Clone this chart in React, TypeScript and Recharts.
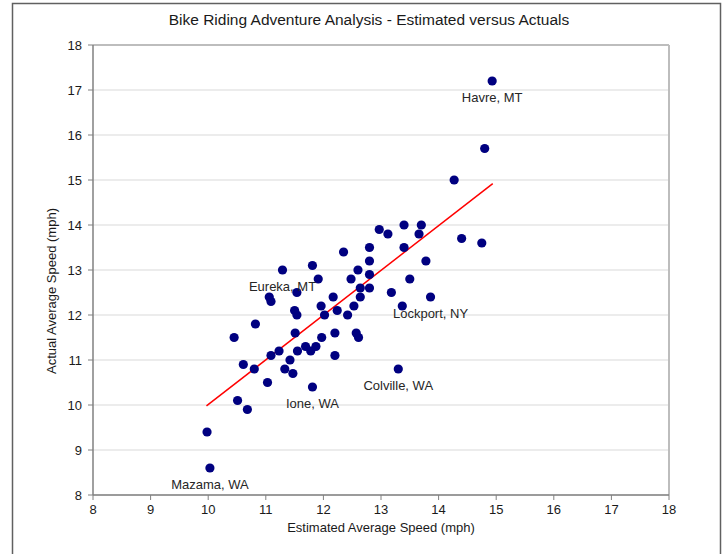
import React from 'react';
import { ScatterChart, Scatter, XAxis, YAxis, CartesianGrid, ReferenceLine } from 'recharts';

const estimated = [
  14.93, 14.8, 14.27, 14.4, 14.75, 13.4, 13.7, 13.66, 12.97, 13.12,
  13.4, 12.8, 13.78, 12.8, 12.35, 13.5, 13.18, 13.86, 13.37, 12.8,
  12.6, 12.48, 12.8, 12.64, 12.64, 12.53, 12.42, 12.24, 12.17, 12.2,
  12.57, 12.61, 12.2, 13.3, 11.81, 11.29, 11.91, 11.54, 11.06, 11.09,
  11.96, 11.5, 11.54, 12.02, 10.82, 10.45, 11.51, 11.97, 11.23, 11.09,
  11.55, 11.69, 11.78, 11.87, 11.42, 10.61, 10.8, 11.33, 11.47, 11.03,
  11.81, 10.51, 10.68, 9.98, 10.03,
];
const actual = [
  17.2, 15.7, 15.0, 13.7, 13.6, 14.0, 14.0, 13.8, 13.9, 13.8,
  13.5, 13.5, 13.2, 13.2, 13.4, 12.8, 12.5, 12.4, 12.2, 12.9,
  13.0, 12.8, 12.6, 12.6, 12.4, 12.2, 12.0, 12.1, 12.4, 11.6,
  11.6, 11.5, 11.1, 10.8, 13.1, 13.0, 12.8, 12.5, 12.4, 12.3,
  12.2, 12.1, 12.0, 12.0, 11.8, 11.5, 11.6, 11.5, 11.2, 11.1,
  11.2, 11.3, 11.2, 11.3, 11.0, 10.9, 10.8, 10.8, 10.7, 10.5,
  10.4, 10.1, 9.9, 9.4, 8.6,
];

const labelNames = ['Havre, MT', 'Eureka, MT', 'Lockport, NY', 'Colville, WA', 'Ione, WA', 'Mazama, WA'];
const labelX = [14.93, 11.29, 13.86, 13.3, 11.81, 10.03];
const labelY = [17.2, 13.0, 12.4, 10.8, 10.4, 8.6];

const trendX = [9.97, 14.94];
const trendY = [9.98, 14.92];

const axisTicks = [8, 9, 10, 11, 12, 13, 14, 15, 16, 17, 18];

const points = estimated.map((x, i) => ({ x, y: actual[i] }));
const labelPoints = labelNames.map((name, i) => ({ x: labelX[i], y: labelY[i], name }));
const trendPoints = trendX.map((x, i) => ({ x, y: trendY[i] }));

const FONT = '"Liberation Sans", Arial, sans-serif';

const Dot = (props: any) => <circle cx={props.cx} cy={props.cy} r={4.6} fill="#000080" />;
const Empty = () => <g />;
const LabelShape = (props: any) => (
  <text
    x={props.cx}
    y={props.cy + 21}
    textAnchor="middle"
    fontFamily={FONT}
    fontSize={13}
    fill="#262626"
  >
    {props.payload.name}
  </text>
);

export default function App() {
  return (
    <div style={{ position: 'absolute', left: 0, top: 0, width: 724, height: 554, background: '#fff', overflow: 'hidden' }}>
      <ScatterChart
        width={724}
        height={554}
        margin={{ top: 45, right: 55, bottom: 29, left: 53 }}
      >
        <CartesianGrid horizontal={true} vertical={false} stroke="#d9d9d9" strokeWidth={1} />
        <XAxis
          type="number"
          dataKey="x"
          domain={[8, 18]}
          ticks={axisTicks}
          allowDataOverflow
          height={30}
          tickSize={5}
          tickMargin={5}
          stroke="#808080"
          tick={{ fill: '#1a1a1a', fontSize: 13, fontFamily: FONT }}
          tickLine={{ stroke: '#808080' }}
          axisLine={{ stroke: '#808080', strokeWidth: 1.5 }}
        />
        <YAxis
          type="number"
          dataKey="y"
          domain={[8, 18]}
          ticks={axisTicks}
          allowDataOverflow
          width={40}
          tickSize={5}
          tickMargin={6}
          stroke="#808080"
          tick={{ fill: '#1a1a1a', fontSize: 13, fontFamily: FONT }}
          tickLine={{ stroke: '#808080' }}
          axisLine={{ stroke: '#808080', strokeWidth: 1.5 }}
        />
        <ReferenceLine y={18} stroke="#bdbdbd" strokeWidth={2} />
        <ReferenceLine x={18} stroke="#bdbdbd" strokeWidth={2} />
        <Scatter data={trendPoints} line={{ stroke: '#ff0000', strokeWidth: 1.5 }} shape={Empty} isAnimationActive={false} />
        <Scatter data={points} shape={Dot} isAnimationActive={false} />
        <Scatter data={labelPoints} shape={LabelShape} isAnimationActive={false} />
      </ScatterChart>
      <svg width={724} height={554} style={{ position: 'absolute', left: 0, top: 0, pointerEvents: 'none' }}>
        <rect x={12.5} y={3.5} width={708} height={600} fill="none" stroke="#606060" strokeWidth={1.5} />
        <text x={369} y={25} textAnchor="middle" fontFamily={FONT} fontSize={15.5} fill="#1a1a1a">
          Bike Riding Adventure Analysis - Estimated versus Actuals
        </text>
        <text x={381} y={532} textAnchor="middle" fontFamily={FONT} fontSize={13} fill="#1a1a1a">
          Estimated Average Speed (mph)
        </text>
        <text
          x={0}
          y={0}
          transform="translate(56, 291) rotate(-90)"
          textAnchor="middle"
          fontFamily={FONT}
          fontSize={13}
          fill="#1a1a1a"
        >
          Actual Average Speed (mph)
        </text>
      </svg>
    </div>
  );
}
